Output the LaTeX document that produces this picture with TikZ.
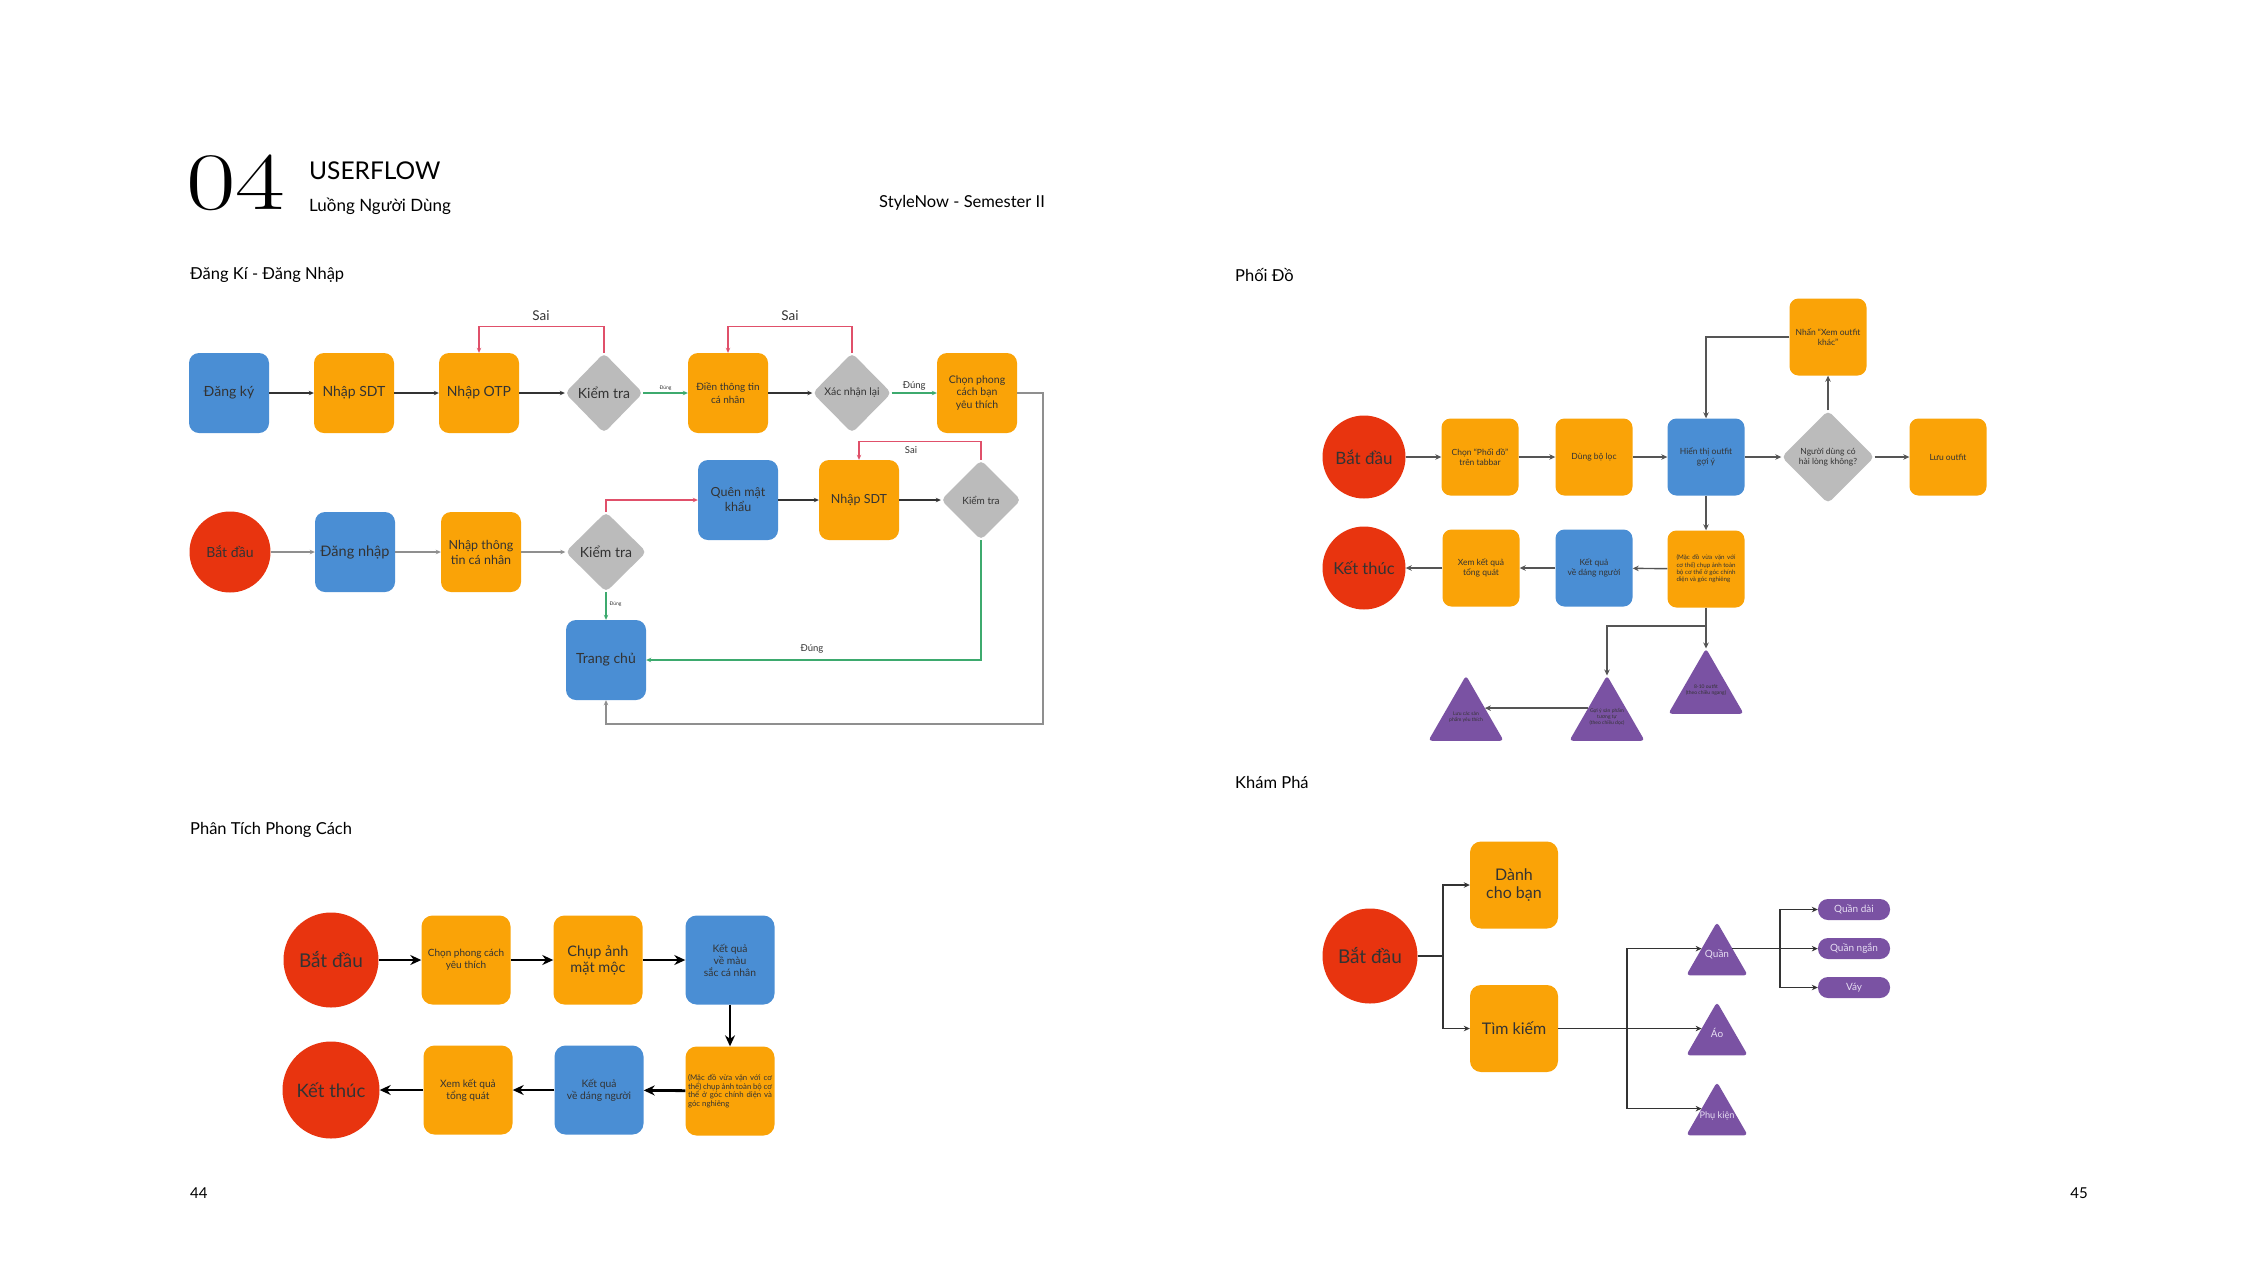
\documentclass[tikz,border=0pt]{standalone}
\usepackage{fontspec}
\setsansfont{Lato}
\renewcommand{\familydefault}{\sfdefault}
\usetikzlibrary{shapes.geometric,arrows.meta,calc}
\definecolor{cblue}{HTML}{4A8ED4}
\definecolor{corange}{HTML}{FAA307}
\definecolor{cred}{HTML}{E8340F}
\definecolor{cgray}{HTML}{BBBBBB}
\definecolor{cpurple}{HTML}{7A52A3}
\definecolor{cpink}{HTML}{E0506A}
\definecolor{cgreen}{HTML}{3DAA6E}
\definecolor{ctext}{HTML}{333333}
\definecolor{cline}{HTML}{333333}
\definecolor{cline2}{HTML}{8F8F8F}
\definecolor{cline3}{HTML}{555555}
\definecolor{clav}{HTML}{E6DDF2}
\newcommand{\fsz}[2]{\fontsize{#1}{#2}\selectfont}
\newcommand{\zt}[1]{\raisebox{0pt}[0pt][0pt]{\makebox[0pt]{\begin{tabular}{@{}c@{}}#1\end{tabular}}}}
\begin{document}
\begin{tikzpicture}[x=1pt,y=-1pt,
  base/.style={inner sep=1pt,align=center,text=ctext},
  dkbox/.style={base,rectangle,rounded corners=10pt,minimum width=80pt,minimum height=80pt},
  pdbox/.style={base,rectangle,rounded corners=9pt,minimum width=77pt,minimum height=77pt,font=\fsz{8.5}{10}},
  ptbox/.style={base,rectangle,rounded corners=11pt,minimum width=89pt,minimum height=89pt},
  kpbox/.style={base,rectangle,rounded corners=11pt,minimum width=88pt,minimum height=87pt},
  startc/.style={base,circle,fill=cred,inner sep=0pt},
  dia/.style={base,diamond,fill=cgray,rounded corners=5pt,inner sep=0pt},
  tri/.style={base,regular polygon,regular polygon sides=3,fill=cpurple,rounded corners=3.5pt,inner sep=0pt,outer sep=0pt},
  pill/.style={base,rectangle,rounded corners=10pt,fill=cpurple,minimum width=72pt,minimum height=21pt,text=clav,font=\fsz{10}{12},inner sep=0pt},
  title/.style={inner sep=0pt,anchor=west,text=black},
  lbl/.style={inner sep=0pt,text=ctext},
  conn/.style={draw=cline,line width=1.1pt,-{Stealth[length=5pt,width=4.5pt]}},
  grayconn/.style={conn,draw=cline2,line width=1.4pt},
  rconn/.style={conn,draw=cpink},
  gconn/.style={conn,draw=cgreen},
  pconn/.style={draw=cline3,line width=1.4pt,-{Stealth[length=6pt,width=5.5pt]}},
  kconn/.style={draw=cline,line width=1.1pt,-{Stealth[length=6pt,width=5.5pt]}},
  kline/.style={draw=cline,line width=1.1pt},
  tconn/.style={draw=black,line width=2.8pt,-{Stealth[length=11pt,width=10pt]}},
]
\path[use as bounding box,fill=white] (0,0) rectangle (2267,1275);

% ---------- header ----------
\node[title] (num) at (186,183) {\rmfamily\fsz{80}{80}\scalebox{1.35}[1.02]{04}};
\node[title] (hd1) at (309,171) {\fsz{24.5}{26}USERFLOW};
\node[title] (hd2) at (309,206) {\fsz{17}{19}Luồng Người Dùng};
\node[inner sep=0pt,anchor=east,text=black] (hd3) at (1045,203) {\fsz{16.5}{19}StyleNow - Semester II};
\node[title] (t1) at (190,275) {\fsz{16.5}{19}Đăng Kí - Đăng Nhập};
\node[title] (t2) at (1235,275) {\fsz{16.5}{19}Phối Đồ};
\node[title] (t3) at (1235,782) {\fsz{16.5}{19}Khám Phá};
\node[title] (t4) at (190,830) {\fsz{16.5}{19}Phân Tích Phong Cách};
\node[title] (pg1) at (190,1193) {\fsz{15}{17}44};
\node[inner sep=0pt,anchor=east,text=black] (pg2) at (2088,1193) {\fsz{15}{17}45};

% ---------- Dang ky - Dang nhap ----------
\node[dkbox,fill=cblue,font=\fsz{14}{16}] (dk) at (229,393) {Đăng ký};
\node[dkbox,fill=corange,font=\fsz{14}{16}] (sdt1) at (354,393) {Nhập SDT};
\node[dkbox,fill=corange,font=\fsz{14}{16}] (otp) at (479,393) {Nhập OTP};
\node[dia,minimum width=78pt,minimum height=80pt,font=\fsz{14}{16}] (kt1) at (604,393) {Kiểm tra};
\node[dkbox,fill=corange,font=\fsz{10}{12.5}] (dien) at (728,393) {Điền thông tin\\cá nhân};
\node[dia,minimum width=79pt,minimum height=80pt,font=\fsz{10.5}{12}] (xn) at (852,393) {Xác nhận lại};
\node[dkbox,fill=corange,font=\fsz{10.5}{12.5}] (chon) at (977,393) {Chọn phong\\cách bạn\\yêu thích};

\node[startc,minimum size=81pt,font=\fsz{14}{16}] (bd1) at (230,552) {Bắt đầu};
\node[dkbox,fill=cblue,font=\fsz{14.5}{16}] (dn) at (355,552) {Đăng nhập};
\node[dkbox,fill=corange,font=\fsz{12.5}{15}] (nhap) at (481,552) {Nhập thông\\tin cá nhân};
\node[dia,minimum width=81pt,minimum height=80pt,font=\fsz{14}{16}] (kt2) at (606,552) {Kiểm tra};
\node[dkbox,fill=cblue,font=\fsz{12.5}{15}] (quen) at (738,500) {Quên mật\\khẩu};
\node[dkbox,fill=corange,font=\fsz{12.5}{15}] (sdt2) at (859,500) {Nhập SDT};
\node[dia,minimum width=80pt,minimum height=80pt,font=\fsz{10}{12}] (kt3) at (981,500) {Kiểm tra};
\node[dkbox,fill=cblue,font=\fsz{14}{16}] (trang) at (606,660) {Trang chủ};

\draw[conn] (dk) -- (sdt1);
\draw[conn] (sdt1) -- (otp);
\draw[conn] (otp) -- (kt1);
\draw[gconn] (kt1) -- (dien) node[lbl,midway,above=2pt,font=\fsz{5}{6}] (ld1) {Đúng};
\draw[conn] (dien) -- (xn);
\draw[gconn] (xn) -- (chon) node[lbl,midway,above=2pt,font=\fsz{9.5}{11}] (ld2) {Đúng};
\draw[rconn] (kt1.north) -- ++(0,-26) -| (otp.north);
\node[lbl,font=\fsz{13.5}{15}] (s1) at (541,316) {Sai};
\draw[rconn] (xn.north) -- ++(0,-26) -| (dien.north);
\node[lbl,font=\fsz{13.5}{15}] (s2) at (790,316) {Sai};
\draw[grayconn] (chon.east) -| (1043,724) -| (trang.south);

\draw[grayconn] (bd1) -- (dn);
\draw[grayconn] (dn) -- (nhap);
\draw[grayconn] (nhap) -- (kt2);
\draw[rconn] (kt2.north) |- (quen.west);
\draw[conn] (quen) -- (sdt2);
\draw[conn] (sdt2) -- (kt3);
\draw[rconn] (kt3.north) -- ++(0,-18) -| (sdt2.north);
\node[lbl,font=\fsz{9.5}{11}] (s3) at (911,450) {Sai};
\draw[gconn] (kt3.south) |- (trang.east);
\node[lbl,font=\fsz{9.5}{11}] (ld3) at (812,649) {Đúng};
\draw[gconn] (kt2.south) -- (trang.north) node[lbl,pos=0.45,right=3pt,font=\fsz{5}{6}] (ld4) {Đúng};

% ---------- Phoi do ----------
\node[startc,minimum size=83pt,font=\fsz{17}{19}] (bd2) at (1364,457) {Bắt đầu};
\node[pdbox,fill=corange] (pd1) at (1480,457) {Chọn “Phối đồ”\\trên tabbar};
\node[pdbox,fill=corange] (pd2) at (1594,457) {Dùng bộ lọc};
\node[pdbox,fill=cblue] (pd3) at (1706,457) {Hiển thị outfit\\gợi ý};
\node[dia,minimum width=93pt,minimum height=93pt,font=\fsz{8.5}{10}] (pd4) at (1828,457) {Người dùng có\\hài lòng không?};
\node[pdbox,fill=corange] (pd5) at (1948,457) {Lưu outfit};
\node[pdbox,fill=corange] (pd6) at (1828,337) {Nhấn “Xem outfit\\khác”};
\node[pdbox,fill=corange,font=\fsz{6.2}{7.3}] (pd7) at (1706,569) {\parbox{59pt}{(Mặc đồ vừa vặn với cơ thể) chụp ảnh toàn bộ cơ thể ở góc chính diện và góc nghiêng}};
\node[pdbox,fill=cblue] (pd8) at (1594,568) {Kết quả\\về dáng người};
\node[pdbox,fill=corange] (pd9) at (1481,568) {Xem kết quả\\tổng quát};
\node[startc,minimum size=83pt,font=\fsz{16.5}{19}] (kt4) at (1364,568) {Kết thúc};
\node[tri,minimum size=87pt,font=\fsz{5}{6}] (tri1) at (1466,719) {\zt{Lưu các sản\\phẩm yêu thích}};
\node[tri,minimum size=87pt,font=\fsz{5}{6}] (tri2) at (1607,719) {\zt{Gợi ý sản phẩm\\tương tự\\(theo chiều dọc)}};
\node[tri,minimum size=87pt,font=\fsz{5}{6}] (tri3) at (1706,692) {\zt{8-10 outfit\\(theo chiều ngang)}};

\draw[pconn] (bd2) -- (pd1);
\draw[pconn] (pd1) -- (pd2);
\draw[pconn] (pd2) -- (pd3);
\draw[pconn] (pd3) -- (pd4);
\draw[pconn] (pd4) -- (pd5);
\draw[pconn] (pd4) -- (pd6);
\draw[pconn] (pd6.west) -| (pd3.north);
\draw[pconn] (pd3) -- (pd7);
\draw[pconn] (pd7) -- (pd8);
\draw[pconn] (pd8) -- (pd9);
\draw[pconn] (pd9) -- (kt4);
\coordinate (pj) at (1706,626);
\draw[pconn] (pd7.south) -- (tri3.corner 1);
\draw[pconn] (pj) -| (tri2.corner 1);
\coordinate (t2L) at ($(tri2.corner 1)!0.5!(tri2.corner 2)$);
\coordinate (t1R) at ($(tri1.corner 1)!0.5!(tri1.corner 3)$);
\draw[pconn] (t2L) -- (t2L -| t1R);

% ---------- Phan tich phong cach ----------
\node[startc,minimum size=95pt,font=\fsz{19}{21}] (pbd) at (331,960) {Bắt đầu};
\node[ptbox,fill=corange,font=\fsz{10}{12}] (p1) at (466,960) {Chọn phong cách\\yêu thích};
\node[ptbox,fill=corange,font=\fsz{14.5}{16}] (p2) at (598,960) {Chụp ảnh\\mặt mộc};
\node[ptbox,fill=cblue,font=\fsz{10.3}{12}] (p3) at (730,960) {Kết quả\\về màu\\sắc cá nhân};
\node[ptbox,fill=corange,font=\fsz{7.8}{8.6}] (p4) at (730,1091) {\parbox{84pt}{(Mặc đồ vừa vặn với cơ thể) chụp ảnh toàn bộ cơ thể ở góc chính diện và góc nghiêng}};
\node[ptbox,fill=cblue,font=\fsz{10.3}{12}] (p5) at (599,1090) {Kết quả\\về dáng người};
\node[ptbox,fill=corange,font=\fsz{10.2}{12}] (p6) at (468,1090) {Xem kết quả\\tổng quát};
\node[startc,minimum size=97pt,font=\fsz{18.5}{21}] (pkt) at (331,1090) {Kết thúc};

\draw[tconn] (pbd) -- (p1);
\draw[tconn] (p1) -- (p2);
\draw[tconn] (p2) -- (p3);
\draw[tconn] (p3) -- (p4);
\draw[tconn] (p4) -- (p5);
\draw[tconn] (p5) -- (p6);
\draw[tconn] (p6) -- (pkt);

% ---------- Kham pha ----------
\node[startc,minimum size=95pt,font=\fsz{19}{21}] (kbd) at (1370,956) {Bắt đầu};
\node[kpbox,fill=corange,font=\fsz{16}{18.5}] (dcb) at (1514,885) {Dành\\cho bạn};
\node[kpbox,fill=corange,font=\fsz{16}{18.5}] (tk) at (1514,1028.5) {Tìm kiếm};
\node[tri,minimum size=71pt,text=clav,font=\fsz{10}{12}] (qtri) at (1717,957.5) {\zt{Quần}};
\node[tri,minimum size=71pt,text=clav,font=\fsz{10}{12}] (atri) at (1717,1037.5) {\zt{Áo}};
\node[tri,minimum size=71pt,text=clav,font=\fsz{9.2}{12}] (ptri) at (1717,1117.5) {\raisebox{-2pt}{\zt{Phụ kiện}}};
\node[pill] (qdai) at (1854,909.5) {Quần dài};
\node[pill] (qngan) at (1854,948.5) {Quần ngắn};
\node[pill] (vay) at (1854,987.5) {Váy};

\coordinate (qL) at ($(qtri.corner 1)!0.5!(qtri.corner 2)$);
\coordinate (qR) at ($(qtri.corner 1)!0.5!(qtri.corner 3)$);
\coordinate (aL) at ($(atri.corner 1)!0.5!(atri.corner 2)$);
\coordinate (pL) at ($(ptri.corner 1)!0.5!(ptri.corner 2)$);
\coordinate (kj) at (1443,956);
\draw[kline] (kbd.east) -- (kj);
\draw[kconn] (kj) |- (dcb.west);
\draw[kconn] (kj) |- (tk.west);
\coordinate (kj2) at (1627,1028.5);
\draw[kconn] (tk.east) -- (tk.east -| aL);
\draw[kconn] (kj2) |- (qL);
\draw[kconn] (kj2) |- (pL);
\draw[kconn] (qR) -- (qR -| qngan.west);
\coordinate (kj3) at (1780,948.5);
\draw[kconn] (kj3) |- (qdai.west);
\draw[kconn] (kj3) |- (vay.west);
\end{tikzpicture}
\end{document}
